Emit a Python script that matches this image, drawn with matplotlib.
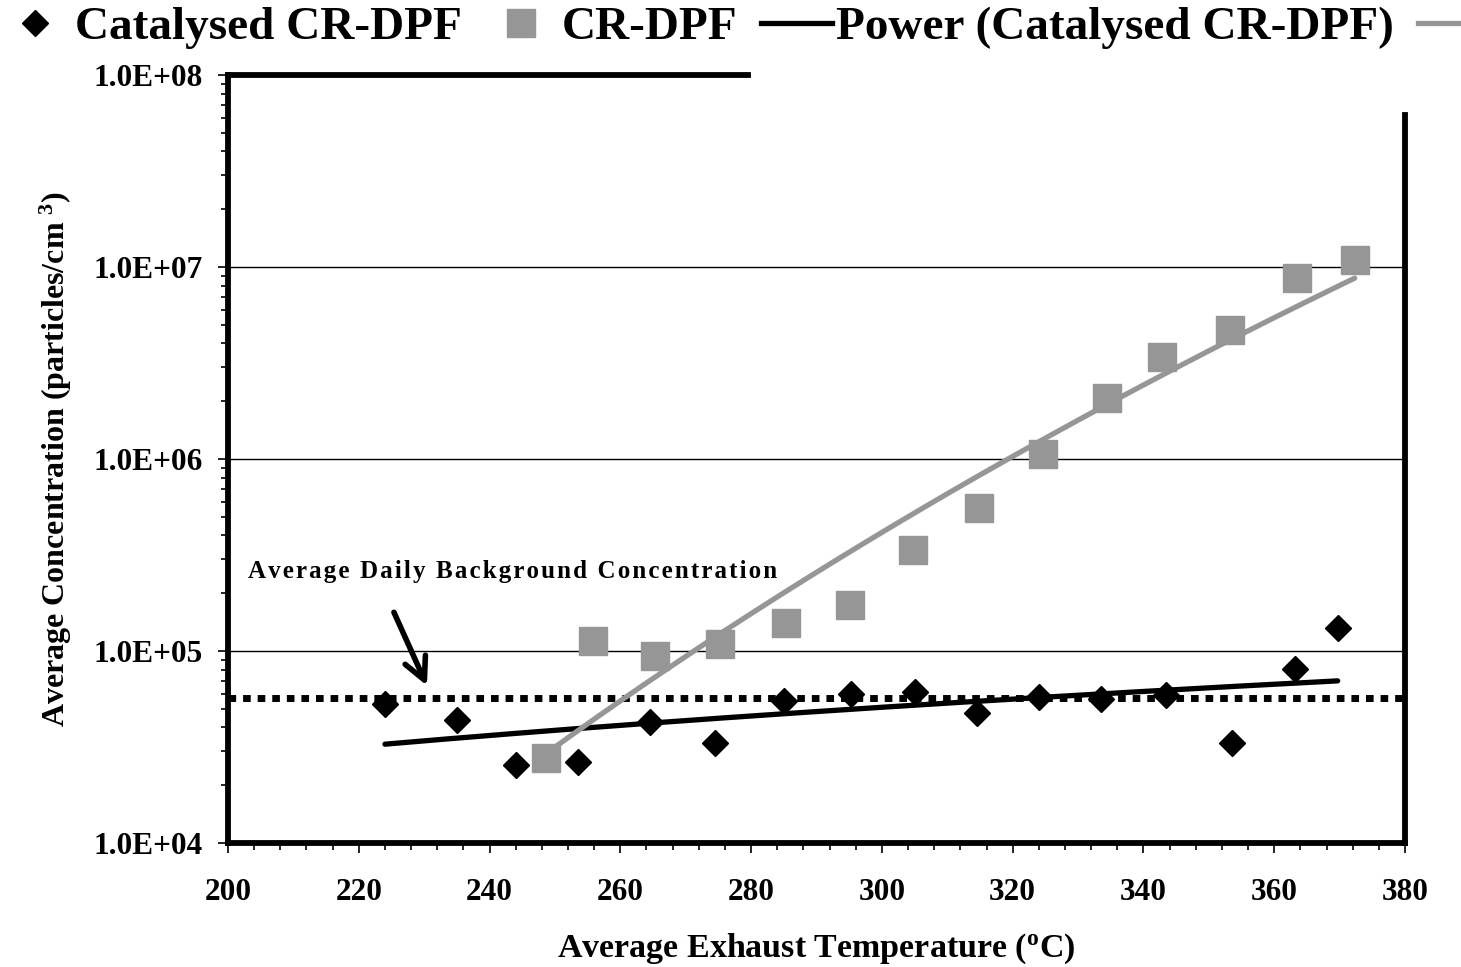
import matplotlib
matplotlib.use("Agg")
import matplotlib.pyplot as plt
from matplotlib.ticker import FixedLocator, FuncFormatter, LogLocator, MultipleLocator, NullFormatter
from matplotlib.lines import Line2D
import numpy as np

# catalysed CR-DPF (diamonds)
cat_temp = [224, 235, 244, 253.5, 264.5, 274.5, 285, 295.3, 305, 314.5, 324, 333.5, 343.5, 353.5, 363.2, 369.7]
cat_conc = [53000, 43700, 25500, 26400, 42700, 33200, 54900, 59700, 61100, 47500,
            57600, 56200, 59000, 33200, 80600, 131000]

# CR-DPF (squares)
cr_temp = [248.7, 255.8, 265.3, 275.2, 285.3, 295.1, 304.7, 314.8, 324.6, 334.4, 342.8, 353.2, 363.5, 372.3]
cr_conc = [27700, 112700, 94200, 108700, 140000, 174000, 336000, 555000, 1.06e6, 2.08e6,
           3.40e6, 4.70e6, 8.77e6, 1.09e7]

background = 56900
y_ticks = [1e4, 1e5, 1e6, 1e7, 1e8]
grid_levels = [1e5, 1e6, 1e7]

plt.rcParams['font.family'] = ['Liberation Serif', 'DejaVu Serif']
plt.rcParams['font.weight'] = 'bold'
plt.rcParams['mathtext.default'] = 'regular'

gray = '#969696'

fig = plt.figure(figsize=(14.61, 9.67), dpi=100)
ax = fig.add_axes([228 / 1461, 1 - 843 / 967, (1405 - 228) / 1461, (843 - 75) / 967])


def power_fit(x, y):
    # power trendline, fitted in log-log space like the spreadsheet does
    b, a = np.polyfit(np.log(x), np.log(y), 1)
    xs = np.linspace(min(x), max(x), 200)
    return xs, np.exp(a) * xs ** b


for g in grid_levels:
    ax.axhline(g, color='black', lw=1.0, zorder=1)

xs, ys = power_fit(cat_temp, cat_conc)
ax.plot(xs, ys, color='black', lw=3.8, solid_capstyle='round', zorder=3)
xs2, ys2 = power_fit(cr_temp, cr_conc)
ax.plot(xs2, ys2, color=gray, lw=3.8, solid_capstyle='round', zorder=3)

ax.axhline(background, color='black', lw=5, linestyle=(0, (1.1, 1.0)),
           dash_capstyle='butt', zorder=2)

ax.plot(cat_temp, cat_conc, 'D', color='black', ms=13, zorder=4)
ax.plot(cr_temp, cr_conc, 's', color=gray, ms=19.5, zorder=4)

ax.set_yscale('log')
ax.set_xlim(200, 380)
ax.set_ylim(1e4, 1e8)

ax.yaxis.set_major_locator(FixedLocator(y_ticks))
ax.yaxis.set_major_formatter(FuncFormatter(lambda v, p: f"{v:.1E}"))
ax.yaxis.set_minor_locator(LogLocator(base=10, subs=np.arange(2, 10)))
ax.yaxis.set_minor_formatter(NullFormatter())
ax.xaxis.set_major_locator(MultipleLocator(20))
ax.xaxis.set_minor_locator(MultipleLocator(4))

ax.tick_params(axis='both', which='major', labelsize=22.5, direction='out', length=7, width=1.2, color='black')
ax.tick_params(axis='both', which='minor', direction='out', length=5, width=1.2)
ax.tick_params(axis='x', which='major', pad=18)
ax.tick_params(axis='y', which='major', pad=11)

for side in ['left', 'bottom', 'top', 'right']:
    ax.spines[side].set_linewidth(4.2)
ax.spines['top'].set_bounds(200, 279.5)
ax.spines['right'].set_bounds(1e4, 6.2e7)

ax.set_xlabel('Average Exhaust Temperature ($^{o}$C)', fontsize=24.5, fontweight='bold', labelpad=18)
ax.set_ylabel('Average Concentration (particles/cm $^{3}$)', fontsize=23, fontweight='bold', labelpad=14)

ax.annotate('', xy=(230.6, 64000), xytext=(225.2, 164000),
            arrowprops=dict(arrowstyle='->', lw=4, color='black', mutation_scale=40))
bg_label = 'Average Daily Background Concentration'
ax.text(203.0, 258000, '\u200a'.join(bg_label), fontsize=18,
        ha='left', va='center')

handles = [
    Line2D([], [], marker='D', color='black', ls='none', ms=13),
    Line2D([], [], marker='s', color=gray, ls='none', ms=19.5),
    Line2D([], [], color='black', lw=3.8),
    Line2D([], [], color=gray, lw=3.8),
]
labels = ['Catalysed CR-DPF', 'CR-DPF', 'Power (Catalysed CR-DPF)', 'Power (CR-DPF)']
fig.legend(handles, labels, loc='upper left', bbox_to_anchor=(-0.013, 1.013), ncol=4,
           frameon=False, fontsize=34, handlelength=1.5, handletextpad=0.1,
           columnspacing=0.5, borderaxespad=0.0)

plt.savefig('out.png', dpi=100)
